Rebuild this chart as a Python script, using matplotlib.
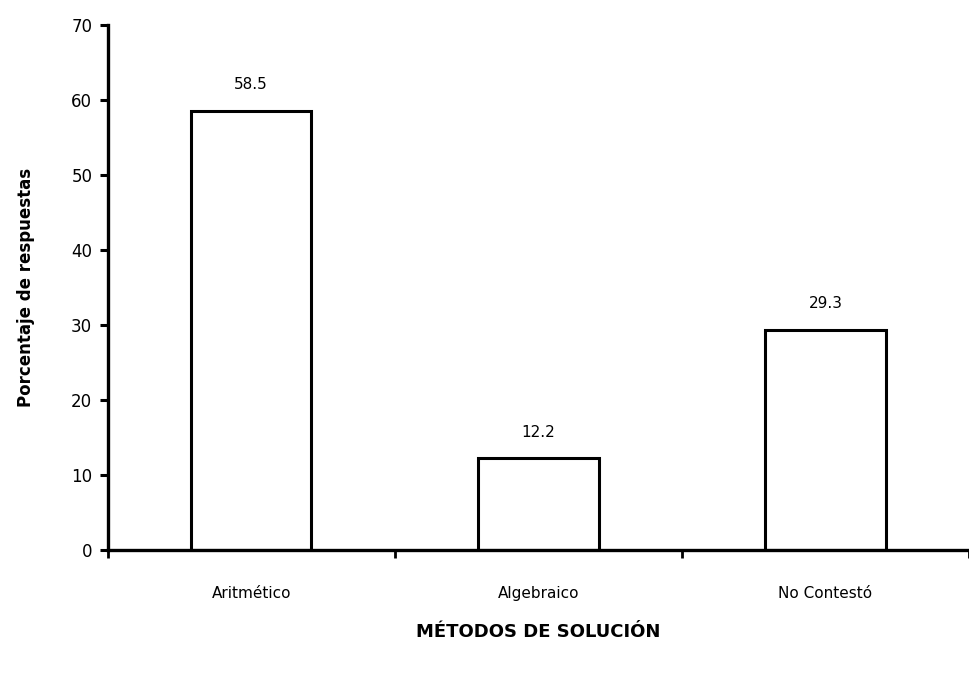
import numpy as np
import matplotlib.pyplot as plt

metodos = ["Aritmético", "Algebraico", "No Contestó"]
porcentajes = [58.5, 12.2, 29.3]
etiquetas = ["58.5", "12.2", "29.3"]
y_ticks = [0, 10, 20, 30, 40, 50, 60, 70]

plt.rcParams['font.family'] = ['DejaVu Sans']

fig = plt.figure(figsize=(9.69, 6.73), dpi=100)
ax = fig.add_axes([0.111, 0.183, 0.889, 0.78])

x = np.arange(len(metodos))
ax.bar(x, porcentajes, width=0.42, color="white", edgecolor="black", linewidth=2.2)

for xi, v, lab in zip(x, porcentajes, etiquetas):
    ax.text(xi, v + 2.5, lab, ha="center", va="bottom", fontsize=11)

ax.set_xlim(-0.5, 2.5)
ax.set_ylim(0, 70)
ax.set_yticks(y_ticks)
ax.tick_params(axis="y", labelsize=12, width=2.2, length=6, direction="out", pad=5)

# category ticks sit between the bars
ax.set_xticks([-0.5, 0.5, 1.5, 2.5])
ax.set_xticklabels([])
ax.tick_params(axis="x", width=2, length=6, direction="out")
ax.set_xticks(x, minor=True)
ax.set_xticklabels(metodos, minor=True, fontsize=11)
ax.tick_params(axis="x", which="minor", length=0, pad=26)

for s in ["top", "right"]:
    ax.spines[s].set_visible(False)
ax.spines["left"].set_linewidth(2.4)
ax.spines["bottom"].set_linewidth(2.4)

ax.set_ylabel("Porcentaje de respuestas", fontsize=12, fontweight="bold", labelpad=26)
ax.set_xlabel("MÉTODOS DE SOLUCIÓN", fontsize=13, fontweight="bold", labelpad=16)

fig.savefig("out.png", dpi=100)
